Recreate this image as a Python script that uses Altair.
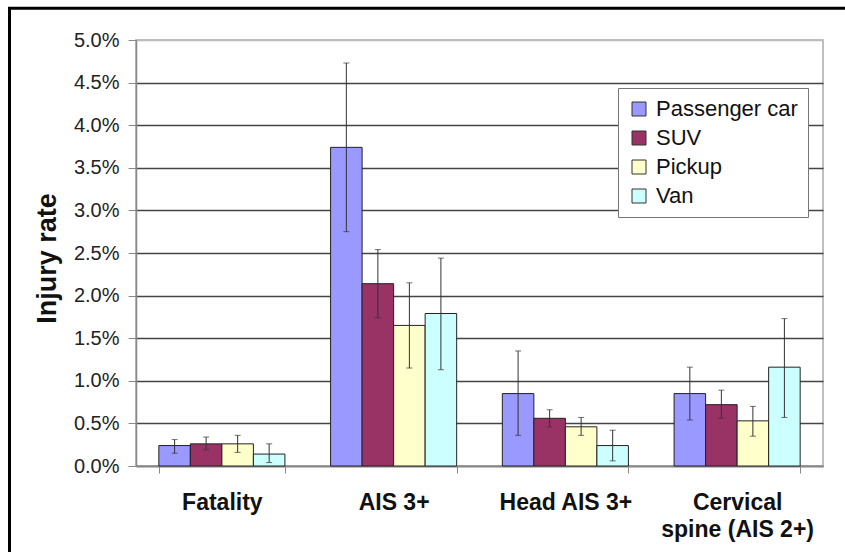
import altair as alt
import pandas as pd

categories = ["Fatality", "AIS 3+", "Head AIS 3+", "Cervical spine (AIS 2+)"]
vehicles = ["Passenger car", "SUV", "Pickup", "Van"]
colors = ["#9999FF", "#993366", "#FFFFCC", "#CCFFFF"]

# injury rates in percent, per category
passenger_car = [0.24, 3.74, 0.85, 0.85]
suv = [0.26, 2.14, 0.56, 0.72]
pickup = [0.26, 1.65, 0.46, 0.53]
van = [0.14, 1.79, 0.24, 1.16]

# error bar bounds in percent
passenger_car_low = [0.15, 2.75, 0.36, 0.54]
passenger_car_high = [0.31, 4.73, 1.35, 1.16]
suv_low = [0.19, 1.74, 0.46, 0.56]
suv_high = [0.34, 2.54, 0.66, 0.89]
pickup_low = [0.16, 1.15, 0.36, 0.35]
pickup_high = [0.36, 2.15, 0.57, 0.70]
van_low = [0.04, 1.13, 0.06, 0.57]
van_high = [0.26, 2.44, 0.42, 1.73]

y_ticks = [0.0, 0.5, 1.0, 1.5, 2.0, 2.5, 3.0, 3.5, 4.0, 4.5, 5.0]

series = {
    "Passenger car": (passenger_car, passenger_car_low, passenger_car_high),
    "SUV": (suv, suv_low, suv_high),
    "Pickup": (pickup, pickup_low, pickup_high),
    "Van": (van, van_low, van_high),
}

rows = []
for v in vehicles:
    vals, lows, highs = series[v]
    for c, val, lo, hi in zip(categories, vals, lows, highs):
        rows.append({"category": c, "vehicle": v, "rate": val / 100,
                     "low": lo / 100, "high": hi / 100})
df = pd.DataFrame(rows)

FONT = "Liberation Sans"

x_enc = alt.X(
    "category:N",
    sort=categories,
    scale=alt.Scale(paddingInner=0.266, paddingOuter=0.133),
    axis=alt.Axis(
        title=None,
        labelAngle=0,
        tickBand="extent",
        tickSize=7,
        tickColor="#888888",
        domainColor="#888888",
        domainWidth=1.5,
        labelFont=FONT,
        labelFontWeight="bold",
        labelFontSize=23,
        labelColor="#111111",
        labelPadding=18,
        labelLineHeight=27,
        labelBaseline="top",
        labelExpr="datum.label == 'Cervical spine (AIS 2+)' ? ['Cervical', 'spine (AIS 2+)'] : datum.label",
    ),
)
xoff = alt.XOffset("vehicle:N", sort=vehicles,
                   scale=alt.Scale(paddingInner=0, paddingOuter=0))

y_scale = alt.Scale(domain=[0, 0.05], nice=False)

base = alt.Chart(df)

bars = base.mark_bar(stroke="#222222", strokeWidth=1).encode(
    x=x_enc,
    xOffset=xoff,
    y=alt.Y(
        "rate:Q",
        scale=y_scale,
        axis=alt.Axis(
            title="Injury rate",
            values=[t / 100 for t in y_ticks],
            format=".1%",
            labelFont=FONT,
            labelFontSize=20,
            labelColor="#222222",
            labelPadding=9,
            tickSize=8,
            tickColor="#888888",
            domainColor="#888888",
            domainWidth=1.5,
            gridColor={"condition": {"test": "datum.value >= 0.05", "value": "#bbbbbb"},
                       "value": "#444444"},
            gridWidth=1.6,
            titleFont=FONT,
            titleFontSize=27,
            titleFontWeight="bold",
            titleColor="#111111",
            titleAngle=270,
            titleX=-89,
            titleY=218,
            titleAlign="center",
            titleBaseline="middle",
        ),
    ),
    color=alt.Color(
        "vehicle:N",
        sort=vehicles,
        scale=alt.Scale(domain=vehicles, range=colors),
        title=None,
        legend=alt.Legend(
            orient="none",
            legendX=482,
            legendY=48,
            labelFont=FONT,
            labelFontSize=22,
            labelColor="#111111",
            labelOffset=6,
            symbolType="square",
            symbolSize=196,
            symbolStrokeColor="#333333",
            symbolStrokeWidth=1,
            rowPadding=7,
            padding=10,
            strokeColor="#777777",
            fillColor="white",
        ),
    ),
)

err = base.mark_rule(color="#333333", strokeWidth=1).encode(
    x=alt.X("category:N", sort=categories),
    xOffset=xoff,
    y=alt.Y("low:Q", scale=y_scale),
    y2="high:Q",
)
cap_low = base.mark_tick(color="#333333", thickness=1, size=6).encode(
    x=alt.X("category:N", sort=categories),
    xOffset=xoff,
    y=alt.Y("low:Q", scale=y_scale),
)
cap_high = base.mark_tick(color="#333333", thickness=1, size=6).encode(
    x=alt.X("category:N", sort=categories),
    xOffset=xoff,
    y=alt.Y("high:Q", scale=y_scale),
)

frame = alt.Chart(pd.DataFrame({"f": [0]})).mark_rect(
    fill=None, stroke="black", strokeWidth=3
).encode(
    x=alt.value(-126.5), x2=alt.value(760),
    y=alt.value(-31.7), y2=alt.value(560),
)

chart = alt.layer(bars, err, cap_low, cap_high, frame).properties(
    width=687,
    height=426,
    autosize=alt.AutoSizeParams(type="none"),
    padding={"left": 136, "top": 40, "right": 22, "bottom": 86},
    background="white",
).configure_view(
    stroke="#aaaaaa", strokeWidth=1.5
)

chart.save("out.html", embed_options={"renderer": "svg", "actions": False})
